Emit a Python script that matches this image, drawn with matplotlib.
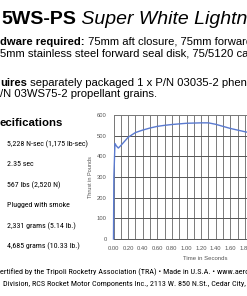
import matplotlib
matplotlib.use('Agg')
import matplotlib.pyplot as plt
from matplotlib.ticker import MultipleLocator
from matplotlib import font_manager

W, H = 247, 296

# thrust curve (visible part only)
time_s = [0.0, 0.005, 0.02, 0.04, 0.066, 0.1, 0.15, 0.2, 0.3, 0.4, 0.5, 0.6, 0.7,
          0.8, 0.9, 1.0, 1.1, 1.2, 1.3, 1.4, 1.5, 1.6, 1.7, 1.8, 1.9]
thrust_lb = [0, 300, 462, 450, 440, 452, 472, 492, 515, 527, 537, 545, 550,
             554, 557, 560, 561, 562, 562, 555, 545, 535, 527, 519, 512]

y_ticks = [0, 100, 200, 300, 400, 500, 600]
x_ticks = [0.0, 0.2, 0.4, 0.6, 0.8, 1.0, 1.2, 1.4, 1.6, 1.8, 2.0, 2.2, 2.4]

spec_values = ['5,228 N-sec (1,175 lb-sec)', '2.35 sec', '567 lbs (2,520 N)',
               'Plugged with smoke', '2,331 grams (5.14 lb.)', '4,685 grams (10.33 lb.)']

footer = ['ertified by the Tripoli Rocketry Association (TRA) \u2022 Made in U.S.A. \u2022 www.aerotech-rocketry.com',
          'Division, RCS Rocket Motor Components Inc., 2113 W. 850 N.St., Cedar City, UT']

installed = {f.name for f in font_manager.fontManager.ttflist}
narrow = 'Liberation Sans'
for cand in ['Liberation Sans Narrow', 'Roboto Condensed', 'Open Sans Condensed',
             'DejaVu Sans Condensed']:
    if cand in installed:
        narrow = cand
        break

plt.rcParams['font.family'] = 'Liberation Sans'

fig = plt.figure(figsize=(W / 100, H / 100), dpi=100)
fig.patch.set_facecolor('white')
renderer = fig.canvas.get_renderer()

# background axes in pixel coords for the document text
bg = fig.add_axes([0, 0, 1, 1], zorder=0)
bg.set_xlim(0, W)
bg.set_ylim(H, 0)
bg.axis('off')


def fit_size(s, family, target_px):
    t = bg.text(0, 0, s, fontsize=10, family=family)
    w = t.get_window_extent(renderer).width
    t.remove()
    return 10 * target_px / w


def text_line(x, y, parts, size):
    prev = None
    for s, weight, style in parts:
        if prev is None:
            prev = bg.text(x, y, s, fontsize=size, fontweight=weight, fontstyle=style,
                           va='baseline', ha='left', color='black')
        else:
            prev = bg.annotate(s, xy=(1, 0), xycoords=prev, fontsize=size, fontweight=weight,
                               fontstyle=style, va='bottom', ha='left', color='black')


text_line(1, 23.5, [('5WS-PS', 'bold', 'normal'), (' Super White Lightning', 'normal', 'italic')], 14.0)
text_line(0, 45, [('dware required:', 'bold', 'normal'),
                  (' 75mm aft closure, 75mm forward closure,', 'normal', 'normal')], 8.1)
text_line(0, 56, [('5mm stainless steel forward seal disk, 75/5120 case', 'normal', 'normal')], 8.1)
text_line(0, 86, [('uires', 'bold', 'normal'),
                  (' separately packaged 1 x P/N 03035-2 phenolic', 'normal', 'normal')], 8.1)
text_line(0, 97, [('/N 03WS75-2 propellant grains.', 'normal', 'normal')], 8.1)
text_line(0, 126, [('ecifications', 'bold', 'normal')], 8.2)

nsize = fit_size(spec_values[0], narrow, 80.6)
for i, s in enumerate(spec_values):
    bg.text(6.7, 146 + i * 20.5, s, fontsize=nsize, family=narrow, va='baseline', ha='left')

fsize = fit_size('Division, RCS Rocket Motor Components Inc., 2113 W. 850 N.St., Cedar City, U', narrow, 247)
bg.text(0, 274, footer[0], fontsize=fsize, family=narrow, va='baseline', ha='left')
bg.text(3, 286, footer[1], fontsize=fsize, family=narrow, va='baseline', ha='left')

# chart: axes extends past the right edge of the page crop
ax_w = 182.5
ax = fig.add_axes([113.5 / W, 57 / H, ax_w / W, 124 / H], zorder=1)
ax.set_facecolor('white')
ax.plot(time_s, thrust_lb, color='#5a7ad0', linewidth=1.0, zorder=3, clip_on=False)
ax.set_xlim(0, 2.5)
ax.set_ylim(0, 600)
ax.set_xticks(x_ticks)
ax.set_xticklabels(['%.2f' % t for t in x_ticks])
ax.set_yticks(y_ticks)
ax.xaxis.set_minor_locator(MultipleLocator(0.1))
ax.grid(True, which='both', axis='x', color='#7a7a7a', linewidth=0.7)
ax.grid(True, which='major', axis='y', color='#555555', linewidth=0.7)
ax.tick_params(which='both', length=0, labelsize=4.2, labelcolor='#555555')
ax.tick_params(axis='y', pad=4.9)
ax.tick_params(axis='x', pad=5.0)
for side in ['left', 'top', 'right']:
    ax.spines[side].set_color('#7a7a7a')
    ax.spines[side].set_linewidth(0.7)
ax.spines['bottom'].set_color('#555555')
ax.spines['bottom'].set_linewidth(0.7)
ax.set_xlabel('Time in Seconds', fontsize=4.3, color='#555555', labelpad=4)
ax.set_ylabel('Thrust in Pounds', fontsize=4.0, color='#555555', labelpad=3)

fig.savefig('out.png', dpi=100)
